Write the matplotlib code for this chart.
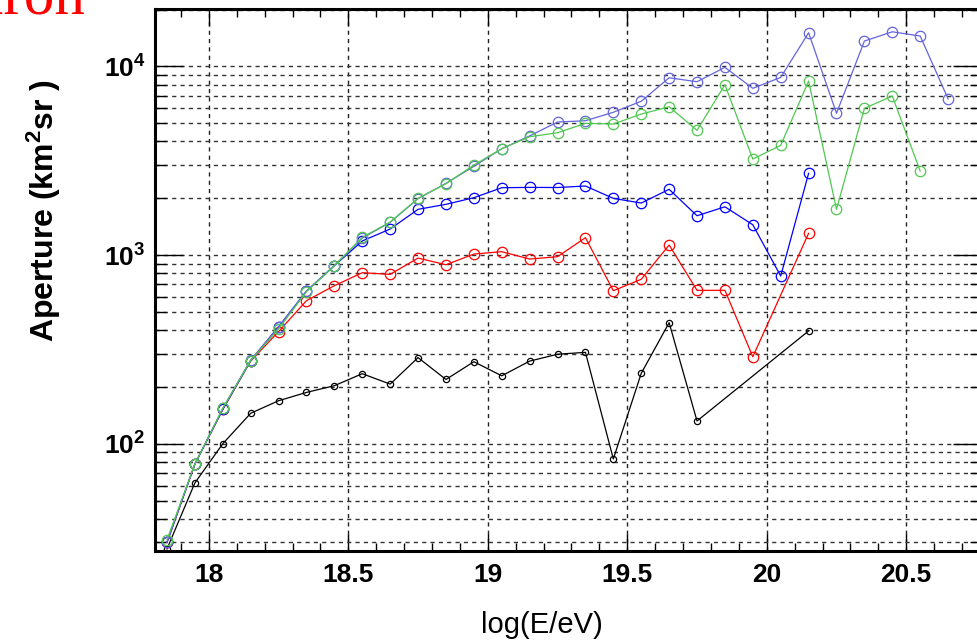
import numpy as np
import matplotlib
matplotlib.use("Agg")
import matplotlib.pyplot as plt
from matplotlib.ticker import LogLocator, NullFormatter, FuncFormatter, MultipleLocator

plt.rcParams['font.family'] = ['Liberation Sans', 'DejaVu Sans']
plt.rcParams['mathtext.fontset'] = 'custom'
plt.rcParams['mathtext.rm'] = 'Liberation Sans:bold'
plt.rcParams['mathtext.bf'] = 'Liberation Sans:bold'
plt.rcParams['mathtext.default'] = 'bf'

# bin centres in log(E/eV)
log_e = np.round(np.arange(17.85, 20.70, 0.1), 2)

# aperture (km^2 sr) per bin for each selection
aperture_all = [30, 78, 154, 278, 415, 645, 880, 1230, 1490, 1990, 2400,
                2950, 3660, 4280, 5070, 5150, 5710, 6530, 8700, 8290, 9880,
                7650, 8740, 15070, 5640, 13620, 15250, 14480, 6730]
aperture_green = [31, 78, 154, 276, 406, 640, 878, 1241, 1496, 1997, 2388,
                  2998, 3660, 4237, 4448, 4990, 4946, 5587, 6108, 4580, 7990,
                  3226, 3814, 8357, 1747, 5987, 6960, 2788]
aperture_blue = [30, 78, 152, 276, 417, 644, 878, 1187, 1374, 1747, 1857,
                 2013, 2274, 2283, 2280, 2322, 1997, 1886, 2230, 1615, 1802,
                 1447, 774, 2710]
aperture_red = [30, 78, 152, 274, 393, 573, 688, 806, 790, 964, 888,
                1012, 1042, 952, 980, 1236, 647, 744, 1130, 650, 650,
                289, None, 1303]
aperture_black = [27.7, 62, 100, 145, 169, 187, 203, 235, 207, 286, 219,
                  272, 229, 274, 298, 305, 83, 236, 438, 132, None,
                  None, None, 396]


def series(values):
    x = [e for e, v in zip(log_e, values) if v is not None]
    y = [v for v in values if v is not None]
    return np.array(x), np.array(y)


fig = plt.figure(figsize=(9.77, 6.43), dpi=100)
ax = fig.add_axes([155 / 977, 1 - 551 / 643, (981 - 155) / 977, (551 - 9) / 643])

styles = [
    (aperture_black, 'black', 4.5),
    (aperture_red, '#ff0000', 7.5),
    (aperture_blue, '#0000ff', 7.5),
    (aperture_all, '#6464dc', 7.5),
    (aperture_green, '#50c850', 7.5),
]
for values, colour, ms in styles:
    x, y = series(values)
    ax.plot(x, y, '-o', color=colour, lw=0.9, ms=ms, mfc='none', mew=0.9, zorder=3)

ax.set_yscale('log')
ax.set_xlim(17.807, 20.768)
ax.set_ylim(27.0, 20140)

ax.xaxis.set_major_locator(MultipleLocator(0.5))
ax.xaxis.set_minor_locator(MultipleLocator(0.1))
ax.xaxis.set_major_formatter(FuncFormatter(lambda v, _: f'{v:g}'))
ax.yaxis.set_major_locator(LogLocator(base=10))
ax.yaxis.set_minor_locator(LogLocator(base=10, subs=np.arange(2, 10)))
ax.yaxis.set_minor_formatter(NullFormatter())
ax.yaxis.set_major_formatter(FuncFormatter(lambda v, _: rf'$10^{{{int(round(np.log10(v)))}}}$'))

ax.grid(which='major', axis='x', color='#222222', ls=(0, (3, 3)), lw=1.0)
ax.grid(which='both', axis='y', color='#333333', ls=(0, (3, 3)), lw=1.0)
ax.set_axisbelow(True)

ax.tick_params(axis='both', which='both', direction='in', top=True, right=True,
               width=1.0, labelsize=19)
ax.tick_params(axis='x', which='major', length=12, pad=9)
ax.tick_params(axis='x', which='minor', length=6)
ax.tick_params(axis='y', which='major', length=20, pad=7)
ax.tick_params(axis='y', which='minor', length=8)
for lab in ax.get_xticklabels():
    lab.set_fontweight('bold')
for side in ax.spines.values():
    side.set_linewidth(2.2)

fig.text(44 / 977, 1 - 210 / 643, r'Aperture (km$^2$sr )', rotation=90,
         ha='center', va='center', fontsize=23, fontweight='bold')
fig.text(542 / 977, 1 - 625 / 643, 'log(E/eV)', ha='center', va='center', fontsize=21)
fig.text(86 / 977, 1 - 14 / 643, 'Iron', ha='right', va='baseline',
         fontsize=44, color='#ff0000', family='Liberation Serif')

fig.savefig('out.png', dpi=100)
